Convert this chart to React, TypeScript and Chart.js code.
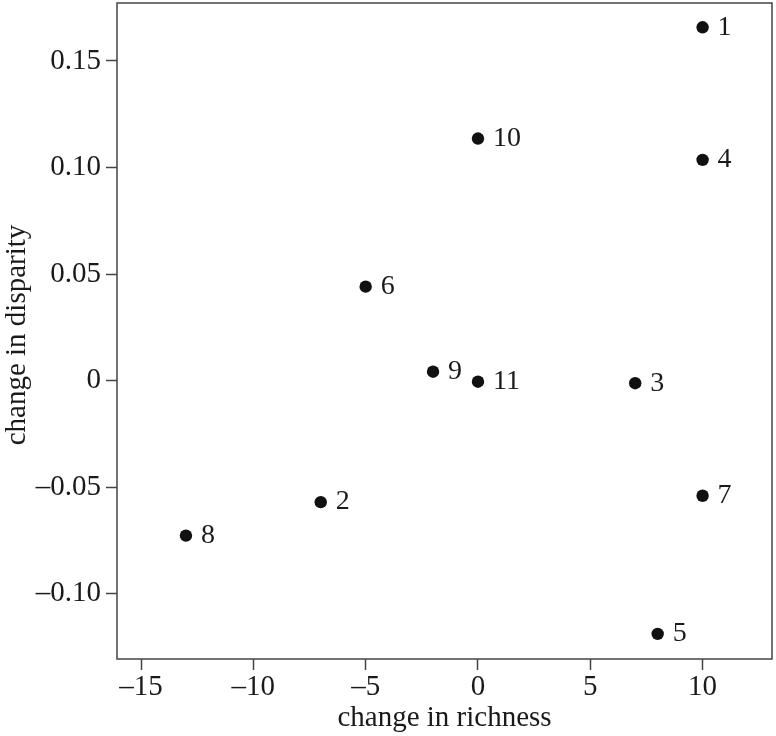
import React, { useEffect, useRef } from "react";
import { Chart, registerables } from "chart.js";

Chart.register(...registerables);

// data
const pointLabels = ["1", "2", "3", "4", "5", "6", "7", "8", "9", "10", "11"];
const richnessChange = [10, -7, 7, 10, 8, -5, 10, -13, -2, 0, 0];
const disparityChange = [0.1658, -0.057, -0.0012, 0.1036, -0.1188, 0.0441, -0.054, -0.0727, 0.0042, 0.1136, -0.0005];
const xTicks = [-15, -10, -5, 0, 5, 10];
const yTicks = [-0.1, -0.05, 0, 0.05, 0.1, 0.15];
const xTitle = "change in richness";
const yTitle = "change in disparity";

const FONT = "'Liberation Serif', 'DejaVu Serif', serif";
const INK = "#1a1a1a";
const FRAME = "#444";

const fmt = (v: number, dec: number) => {
  if (Math.abs(v) < 1e-9) return "0";
  const s = dec > 0 ? Math.abs(v).toFixed(dec) : String(Math.abs(v));
  return v < 0 ? "\u2013" + s : s;
};

const framePlugin = {
  id: "frameBox",
  afterDraw(chart: any) {
    const { ctx, chartArea } = chart;
    ctx.save();
    ctx.strokeStyle = FRAME;
    ctx.lineWidth = 1.5;
    ctx.strokeRect(chartArea.left, chartArea.top, chartArea.right - chartArea.left, chartArea.bottom - chartArea.top);
    // y-axis title
    ctx.translate(17, (chartArea.top + chartArea.bottom) / 2 + 4);
    ctx.rotate(-Math.PI / 2);
    ctx.font = `29px ${FONT}`;
    ctx.fillStyle = INK;
    ctx.textAlign = "center";
    ctx.textBaseline = "middle";
    ctx.fillText(yTitle, 0, 0);
    ctx.restore();
  },
};

const labelPlugin = {
  id: "pointLabels",
  afterDatasetsDraw(chart: any) {
    const { ctx } = chart;
    const meta = chart.getDatasetMeta(0);
    ctx.save();
    ctx.font = `28px ${FONT}`;
    ctx.fillStyle = INK;
    ctx.textAlign = "left";
    ctx.textBaseline = "middle";
    meta.data.forEach((el: any, i: number) => {
      ctx.fillText(pointLabels[i], el.x + 15, el.y);
    });
    ctx.restore();
  },
};

export default function App() {
  const ref = useRef<HTMLCanvasElement>(null);
  useEffect(() => {
    if (!ref.current) return;
    const chart = new Chart(ref.current, {
      type: "scatter",
      data: {
        datasets: [
          {
            data: richnessChange.map((x, i) => ({ x, y: disparityChange[i] })),
            backgroundColor: "#111",
            borderWidth: 0,
            pointRadius: 6.2,
            pointHoverRadius: 6.2,
          },
        ],
      },
      options: {
        responsive: false,
        animation: false,
        events: [],
        layout: { autoPadding: false, padding: { left: 0, top: 3, right: 4, bottom: 0 } },
        plugins: { legend: { display: false }, tooltip: { enabled: false } },
        scales: {
          x: {
            type: "linear",
            min: -16.07,
            max: 13.09,
            afterBuildTicks: (s: any) => {
              s.ticks = xTicks.map((v) => ({ value: v }));
            },
            afterFit: (s: any) => {
              s.height = 77;
              s.paddingLeft = 0;
              s.paddingRight = 0;
            },
            grid: { drawOnChartArea: false, drawTicks: true, tickLength: 11, tickColor: FRAME, tickWidth: 1.5 },
            border: { display: false },
            ticks: {
              padding: 0,
              color: INK,
              font: { family: FONT, size: 29 },
              maxRotation: 0,
              autoSkip: false,
              callback: (v: any) => fmt(Number(v), 0),
            },
            title: {
              display: true,
              text: xTitle,
              color: INK,
              font: { family: FONT, size: 29 },
              padding: 0,
            },
          },
          y: {
            type: "linear",
            min: -0.1306,
            max: 0.1772,
            afterBuildTicks: (s: any) => {
              s.ticks = yTicks.map((v) => ({ value: v }));
            },
            afterFit: (s: any) => {
              s.width = 117;
              s.paddingTop = 0;
              s.paddingBottom = 0;
            },
            grid: { drawOnChartArea: false, drawTicks: true, tickLength: 11, tickColor: FRAME, tickWidth: 1.5 },
            border: { display: false },
            ticks: {
              padding: 5,
              color: INK,
              font: { family: FONT, size: 29 },
              autoSkip: false,
              callback: (v: any) => fmt(Number(v), 2),
            },
            title: { display: false },
          },
        },
      },
      plugins: [framePlugin, labelPlugin],
    });
    return () => chart.destroy();
  }, []);
  return (
    <div style={{ position: "fixed", left: 0, top: 0, width: 776, height: 736, background: "#fff" }}>
      <canvas ref={ref} width={776} height={736} style={{ display: "block" }} />
    </div>
  );
}
